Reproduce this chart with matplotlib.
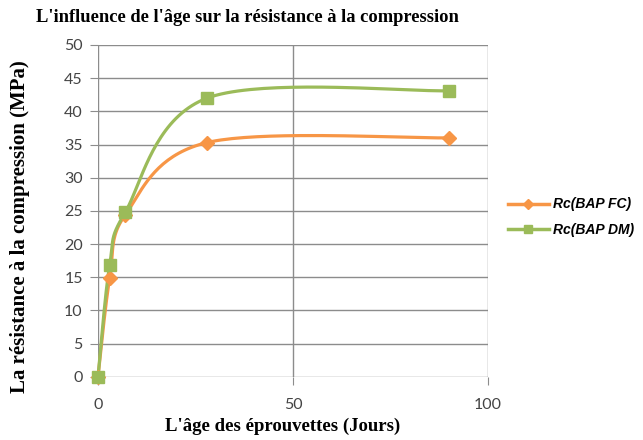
import numpy as np
import matplotlib
matplotlib.use("Agg")
import matplotlib.pyplot as plt
from matplotlib.lines import Line2D

days = [0, 3, 7, 28, 90]
rc_fc = [0, 14.9, 24.4, 35.3, 36.0]
rc_dm = [0, 16.9, 24.8, 42.0, 43.1]
series_names = ["Rc(BAP FC)", "Rc(BAP DM)"]
xticks = [0, 50, 100]
yticks = list(range(0, 55, 5))

ORANGE = "#F79646"
GREEN = "#9BBB59"

def smooth(x, y, n=40):
    # Excel-like smoothed line (Catmull-Rom style Bezier)
    x = np.asarray(x, float); y = np.asarray(y, float)
    P = np.column_stack([x, y])
    pts = []
    for i in range(len(P) - 1):
        p0 = P[i - 1] if i > 0 else P[i]
        p1 = P[i]; p2 = P[i + 1]
        p3 = P[i + 2] if i + 2 < len(P) else P[i + 1]
        c1 = p1 + (p2 - p0) / 6.0
        c2 = p2 - (p3 - p1) / 6.0
        t = np.linspace(0, 1, n)[:, None]
        b = (1 - t) ** 3 * p1 + 3 * (1 - t) ** 2 * t * c1 + 3 * (1 - t) * t ** 2 * c2 + t ** 3 * p2
        pts.append(b if i == 0 else b[1:])
    B = np.vstack(pts)
    return B[:, 0], B[:, 1]

fig = plt.figure(figsize=(6.43, 4.40), dpi=100)
ax = fig.add_axes([98/643, 1 - 376.7/440, 390/643, (376.7 - 45)/440])

for yv, col, mk, ms in [(rc_fc, ORANGE, "D", 7), (rc_dm, GREEN, "s", 8)]:
    sx, sy = smooth(days, yv)
    ax.plot(sx, sy, color=col, lw=2.3, zorder=3, solid_capstyle="round", clip_on=False)
    ax.plot(days, yv, ls="none", marker=mk, ms=ms, color=col, zorder=4, clip_on=False)

ax.set_xlim(0, 100)
ax.set_ylim(0, 50)
ax.set_xticks(xticks)
ax.set_yticks(yticks)
ax.grid(True, color="#8c8c8c", lw=1)
ax.set_axisbelow(True)
for s in ax.spines.values():
    s.set_visible(False)
ax.tick_params(axis="both", length=6, color="#8c8c8c", labelsize=11.5, labelcolor="#444444", pad=5)
ax.tick_params(axis="x", pad=9)
for lab in ax.get_xticklabels() + ax.get_yticklabels():
    lab.set_family("Lato")

fig.text(247/643, 1 - 18/440, "L'influence de l'âge sur la résistance à la compression",
         ha="center", va="center", fontsize=13.3, fontweight="bold", family="Liberation Serif")
fig.text(283/643, 1 - 426/440, "L'âge des éprouvettes (Jours)",
         ha="center", va="center", fontsize=13.5, fontweight="bold", family="Liberation Serif")
fig.text(20/643, 1 - 227/440, "La résistance à la compression (MPa)", rotation=90,
         ha="center", va="center", fontsize=15, fontweight="bold", family="Liberation Serif")

handles = [Line2D([], [], color=ORANGE, lw=2.5, marker="D", ms=5),
           Line2D([], [], color=GREEN, lw=2.5, marker="s", ms=6)]
leg = fig.legend(handles, series_names, loc="center left", bbox_to_anchor=(495/643, 1 - 217/440),
                 frameon=False, handlelength=3, labelspacing=0.8, handletextpad=0.3,
                 prop={"family": "Liberation Sans", "style": "italic", "weight": "bold", "size": 10})

fig.savefig("out.png", dpi=100)
